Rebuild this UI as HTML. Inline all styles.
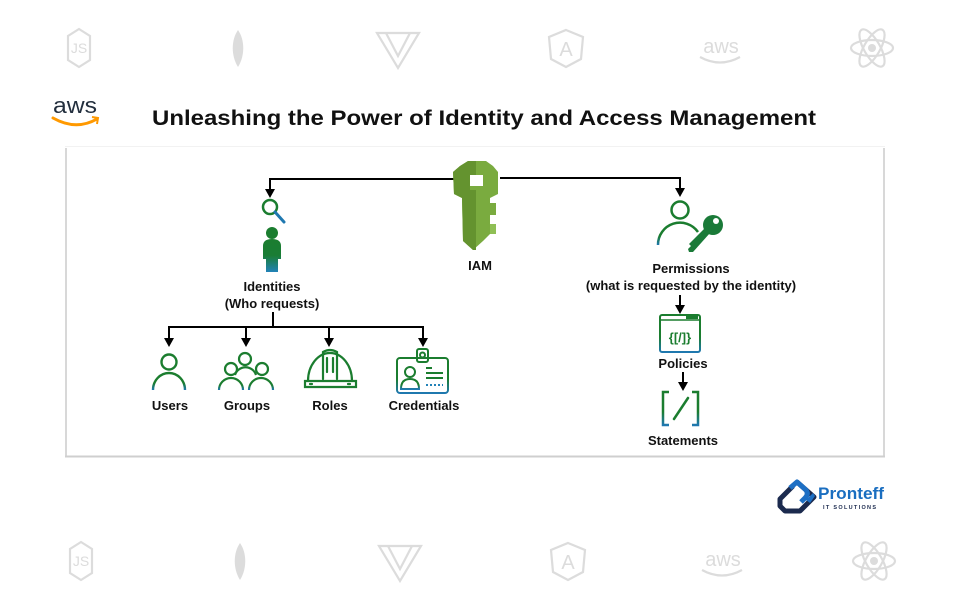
<!DOCTYPE html>
<html>
<head>
<meta charset="utf-8">
<style>
html,body{margin:0;padding:0;background:#fff;}
svg{display:block;}
text{font-family:"Liberation Sans",Arial,sans-serif;}
</style>
</head>
<body>
<svg width="961" height="600" viewBox="0 0 961 600" xmlns="http://www.w3.org/2000/svg">
<defs>
  <linearGradient id="gb" x1="0" y1="0" x2="0" y2="1">
    <stop offset="0" stop-color="#1b7d2f"/>
    <stop offset="0.6" stop-color="#1b7d2f"/>
    <stop offset="1" stop-color="#1f78b0"/>
  </linearGradient>
  <linearGradient id="gb2" x1="0" y1="0" x2="0" y2="1">
    <stop offset="0" stop-color="#1b7d2f"/>
    <stop offset="0.5" stop-color="#1a7d35"/>
    <stop offset="1" stop-color="#2282b8"/>
  </linearGradient>
  <g id="bgicons" fill="none" stroke="#dcdcdc" stroke-width="2.2">
    <polygon points="79,-19 90,-12 90,12 79,19 68,12 68,-12"/>
    <text x="79" y="5" font-size="14" text-anchor="middle" fill="#dcdcdc" stroke="none">JS</text>
    <path d="M238,-18 C231,-8 231,8 238,19 C245,8 245,-8 238,-18 Z" fill="#dcdcdc" stroke="none"/>
    <polygon points="377,-15 419,-15 398,20"/>
    <polyline points="386,-15 398,8 410,-15"/>
    <polygon points="566,-18 583,-11 581,11 566,19 551,11 549,-11"/>
    <text x="566" y="8" font-size="20" text-anchor="middle" fill="#dcdcdc" stroke="none">A</text>
    <text x="721" y="5" font-size="20" text-anchor="middle" fill="#dcdcdc" stroke="none">aws</text>
    <path d="M700,9 Q720,20 740,9"/>
    <ellipse cx="872" cy="0" rx="21" ry="8"/>
    <ellipse cx="872" cy="0" rx="21" ry="8" transform="rotate(60 872 0)"/>
    <ellipse cx="872" cy="0" rx="21" ry="8" transform="rotate(-60 872 0)"/>
    <circle cx="872" cy="0" r="4" fill="#dcdcdc" stroke="none"/>
  </g>
</defs>

<use href="#bgicons" transform="translate(0,48)"/>
<use href="#bgicons" transform="translate(2,561)"/>

<!-- aws logo -->
<text x="75" y="113" font-size="22" text-anchor="middle" fill="#232f3e" textLength="44" lengthAdjust="spacingAndGlyphs">aws</text>
<path d="M53,118 Q76,131 97,119" fill="none" stroke="#ff9900" stroke-width="3" stroke-linecap="round"/>
<path d="M92,117 L98,118 L97,124" fill="none" stroke="#ff9900" stroke-width="2"/>

<!-- title -->
<text x="152" y="125" font-size="21" font-weight="bold" fill="#111" textLength="664" lengthAdjust="spacingAndGlyphs">Unleashing the Power of Identity and Access Management</text>

<!-- card -->
<rect x="65" y="146" width="820" height="311" fill="#fff"/>
<line x1="65" y1="146.5" x2="885" y2="146.5" stroke="#f2f2f2" stroke-width="1"/>
<line x1="66" y1="148" x2="66" y2="457" stroke="#d8d8d8" stroke-width="2"/>
<line x1="884" y1="148" x2="884" y2="457" stroke="#d8d8d8" stroke-width="2"/>
<line x1="65" y1="456.5" x2="885" y2="456.5" stroke="#cfcfcf" stroke-width="2"/>

<!-- connectors -->
<g stroke="#000" stroke-width="2" fill="none">
  <path d="M455,179 H270 V190"/>
  <path d="M500,178 H680 V189"/>
  <path d="M273,312 V327"/>
  <path d="M169,339 V327 H423 V339"/>
  <path d="M246,327 V339"/>
  <path d="M329,327 V339"/>
  <path d="M680,295 V306"/>
  <path d="M683,372 V383"/>
</g>
<g fill="#000">
  <polygon points="265,189 275,189 270,198"/>
  <polygon points="675,188 685,188 680,197"/>
  <polygon points="164,338 174,338 169,347"/>
  <polygon points="241,338 251,338 246,347"/>
  <polygon points="324,338 334,338 329,347"/>
  <polygon points="418,338 428,338 423,347"/>
  <polygon points="675,305 685,305 680,314"/>
  <polygon points="678,382 688,382 683,391"/>
</g>

<!-- IAM key -->
<g>
  <polygon points="468,161 486,161 493,166 498,172 498,194 490,198 490,203 496,203 496,215 490,215 490,224 496,224 496,234 490,234 483,241 473,250 463,241 462,198 454,194 453,172 460,166" fill="#7aab3f"/>
  <polygon points="468,161 476,161 476,176 470,176 470,190 476,190 476,250 473,250 463,241 462,198 454,194 453,172 460,166" fill="#64932f"/>
  <polygon points="490,224 496,224 496,234 490,234" fill="#8fbf55"/>
  <rect x="470" y="175" width="13" height="11" fill="#fff"/>
</g>
<text x="480" y="270" font-size="13" font-weight="bold" text-anchor="middle" fill="#111">IAM</text>

<!-- Identities icon -->
<circle cx="270" cy="207" r="7" fill="none" stroke="#1b7d2f" stroke-width="2.5"/>
<line x1="275" y1="212" x2="284" y2="222" stroke="#1f78b0" stroke-width="3" stroke-linecap="round"/>
<circle cx="272" cy="233" r="6" fill="#1b7d2f"/>
<path d="M263,259 L263,246 Q263,239 272,239 Q281,239 281,246 L281,259 L278,259 L278,272 L266,272 L266,259 Z" fill="url(#gb2)"/>
<text x="272" y="291" font-size="13" font-weight="bold" text-anchor="middle" fill="#111">Identities</text>
<text x="272" y="308" font-size="13" font-weight="bold" text-anchor="middle" fill="#111">(Who requests)</text>

<!-- Users -->
<circle cx="169" cy="362" r="7.5" fill="none" stroke="#1b7d2f" stroke-width="2.4"/>
<path d="M153,390 A16,17 0 0 1 185,390" fill="none" stroke="url(#gb)" stroke-width="2.4"/>
<text x="170" y="410" font-size="13" font-weight="bold" text-anchor="middle" fill="#111">Users</text>

<!-- Groups -->
<g fill="none" stroke-width="2.2">
  <circle cx="245" cy="359" r="6" stroke="#1b7d2f"/>
  <path d="M235,375 A11,11 0 0 1 256,375" stroke="#1b7d2f"/>
  <circle cx="231" cy="369" r="6" stroke="#1b7d2f"/>
  <circle cx="262" cy="369" r="6" stroke="#1b7d2f"/>
  <path d="M219,390 A12,12 0 0 1 243,390" stroke="url(#gb)"/>
  <path d="M249,390 A12,12 0 0 1 273,390" stroke="url(#gb)"/>
</g>
<text x="247" y="410" font-size="13" font-weight="bold" text-anchor="middle" fill="#111">Groups</text>

<!-- Roles hard hat -->
<g fill="none" stroke="#1b7d2f" stroke-width="2.2" stroke-linecap="round">
  <path d="M308,381 A22,28 0 0 1 352,381"/>
  <path d="M305,381 H356 V387 H305 Z"/>
  <path d="M323,379 V352 Q330,348 337,352 V379"/>
  <line x1="327" y1="358" x2="327" y2="372"/>
  <line x1="333" y1="358" x2="333" y2="372"/>
  <line x1="310" y1="384" x2="312" y2="384"/>
  <line x1="348" y1="384" x2="350" y2="384"/>
</g>
<text x="330" y="410" font-size="13" font-weight="bold" text-anchor="middle" fill="#111">Roles</text>

<!-- Credentials -->
<g fill="none" stroke-width="2">
  <rect x="397" y="358" width="51" height="35" rx="3" stroke="url(#gb)"/>
  <rect x="417" y="349" width="11" height="13" rx="2" stroke="#1b7d2f"/>
  <circle cx="422.5" cy="355" r="2.5" stroke="#1b7d2f"/>
  <circle cx="410" cy="372" r="5" stroke="#1b7d2f"/>
  <path d="M401,389 Q401,379 410,379 Q419,379 419,389 Z" stroke="url(#gb)"/>
  <line x1="426" y1="368" x2="432" y2="368" stroke="#1b7d2f"/>
  <line x1="426" y1="373" x2="443" y2="373" stroke="#1b7d2f"/>
  <line x1="426" y1="378" x2="443" y2="378" stroke="#1b7d2f"/>
  <line x1="426" y1="385" x2="443" y2="385" stroke="#2282b8" stroke-dasharray="2 2"/>
</g>
<text x="424" y="410" font-size="13" font-weight="bold" text-anchor="middle" fill="#111">Credentials</text>

<!-- Permissions icon -->
<circle cx="680" cy="210" r="8.5" fill="none" stroke="#1b7d2f" stroke-width="2.5"/>
<path d="M658,245 A22,22 0 0 1 698,232" fill="none" stroke="url(#gb)" stroke-width="2.5"/>
<g fill="#1a7a38">
  <circle cx="713" cy="225" r="10"/>
  <path d="M705,228 L710,233 L693,252 L689,252 L688,249 L691,246 L689,244 Z"/>
</g>
<circle cx="716" cy="221" r="3" fill="#fff"/>
<text x="691" y="273" font-size="13" font-weight="bold" text-anchor="middle" fill="#111">Permissions</text>
<text x="691" y="290" font-size="13" font-weight="bold" text-anchor="middle" fill="#111">(what is requested by the identity)</text>

<!-- Policies icon -->
<rect x="660" y="315" width="40" height="37" rx="2" fill="none" stroke="url(#gb)" stroke-width="2"/>
<line x1="660" y1="320" x2="700" y2="320" stroke="#1b7d2f" stroke-width="1.5"/>
<rect x="686" y="316" width="12" height="3" fill="#1b7d2f"/>
<text x="680" y="342" font-size="13" font-weight="bold" text-anchor="middle" fill="#1b7d2f">{[/]}</text>
<text x="683" y="368" font-size="13" font-weight="bold" text-anchor="middle" fill="#111">Policies</text>

<!-- Statements icon -->
<g fill="none" stroke="url(#gb)" stroke-width="2.5">
  <path d="M669,392 H663 V425 H669"/>
  <path d="M692,392 H698 V425 H692"/>
</g>
<line x1="688" y1="398" x2="674" y2="419" stroke="#1b7d2f" stroke-width="2.5" stroke-linecap="round"/>
<text x="683" y="445" font-size="13" font-weight="bold" text-anchor="middle" fill="#111">Statements</text>

<!-- Pronteff logo -->
<g>
  <path d="M797,482 L814,497 L800,511 L785,511 L780,506 L780,499 L793,486" fill="none" stroke="#1b2a4e" stroke-width="5" stroke-linejoin="round"/>
  <path d="M790,488 L797,482 L806,490 Q809,494 805,498 L801,502" fill="none" stroke="#1d6fc4" stroke-width="5" stroke-linejoin="round"/>
  <path d="M806,500 L813,493 L815,496 L810,503 Z" fill="#1d6fc4"/>
</g>
<text x="818" y="499" font-size="17" font-weight="bold" fill="#1a6ec0" textLength="66" lengthAdjust="spacingAndGlyphs">Pronteff</text>
<text x="823" y="509" font-size="5.5" font-weight="bold" fill="#1b2a4e" textLength="53" lengthAdjust="spacing">IT SOLUTIONS</text>
</svg>
</body>
</html>
